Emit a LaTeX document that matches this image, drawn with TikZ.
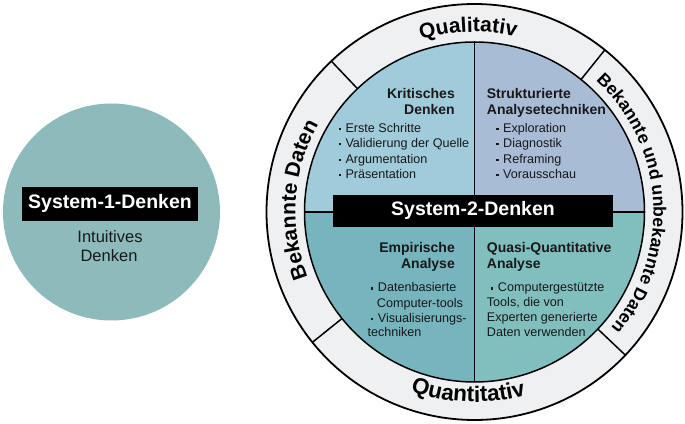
\documentclass[tikz,border=0pt]{standalone}
\usepackage{fontspec}
\setmainfont{Liberation Sans}
\usetikzlibrary{decorations.text}
\definecolor{sysone}{HTML}{8DBABA}
\definecolor{ringcol}{HTML}{EFF0F2}
\definecolor{qtl}{HTML}{A0CBDB}
\definecolor{qtr}{HTML}{A8BCD6}
\definecolor{qbl}{HTML}{76B4BE}
\definecolor{qbr}{HTML}{80BFBE}
\newcommand\qsq{\makebox[7pt][l]{\rule[2.3pt]{2.3pt}{2.3pt}}}
\tikzset{
  body/.style={font=\fontsize{12.6}{15}\selectfont, inner sep=0pt, text=black!90},
  head/.style={font=\bfseries\fontsize{14}{16}\selectfont, inner sep=0pt, text=black!90},
  bigbox/.style={fill=black, text=white, font=\bfseries\fontsize{19.5}{20}\selectfont, inner sep=0pt},
  ringline/.style={line width=1.5pt, black},
}
\begin{document}
\begin{tikzpicture}[x=1pt,y=1pt]
\useasboundingbox (0,0) rectangle (685,423);

% left circle
\node[circle, fill=sysone, minimum size=217pt, inner sep=0pt] (s1circ) at (111.5,211) {};
\node[bigbox, minimum width=175.4pt, minimum height=34pt] (s1box) at (110,219.3) {System-1-Denken};
\node[inner sep=0pt, anchor=base, font=\fontsize{16.5}{19}\selectfont, text=black!90] (s1a) at (110,180.7) {Intuitives};
\node[inner sep=0pt, anchor=base, font=\fontsize{16.5}{19}\selectfont, text=black!90] (s1b) at (109,161.3) {Denken};

% big circle
\coordinate (C) at (474.5,211);
\fill[ringcol] (C) circle (208);
\fill[qtl] (C) -- ([shift={(90:170)}]C) arc[start angle=90, end angle=180, radius=170] -- cycle;
\fill[qtr] (C) -- ([shift={(0:170)}]C) arc[start angle=0, end angle=90, radius=170] -- cycle;
\fill[qbl] (C) -- ([shift={(180:170)}]C) arc[start angle=180, end angle=270, radius=170] -- cycle;
\fill[qbr] (C) -- ([shift={(270:170)}]C) arc[start angle=270, end angle=360, radius=170] -- cycle;

\draw[line width=1.3pt] ([shift={(90:170)}]C) -- ([shift={(270:170)}]C);
\draw[line width=1.3pt] ([shift={(180:170)}]C) -- ([shift={(0:170)}]C);
\draw[line width=1.8pt] (C) circle (208);
\draw[ringline] (C) circle (170);
\foreach \a in {133.5,51.2,218.8,316.5}{
  \draw[ringline] ([shift={(\a:170)}]C) -- ([shift={(\a:208)}]C);
}

% ring labels
\path[decorate, decoration={text along path, text align=center,
  text={|\bfseries\fontsize{21}{21}\selectfont|Qualitativ}}]
  ([shift={(137:180)}]C) arc[start angle=137, end angle=47, radius=180];
\path[decorate, decoration={text along path, text align=center,
  text={|\bfseries\fontsize{22.5}{22.5}\selectfont|Quantitativ}}]
  ([shift={(223:190)}]C) arc[start angle=223, end angle=313, radius=190];
\path[decorate, decoration={text along path, text align=center,
  text={|\bfseries\fontsize{21}{21}\selectfont|Bekannte Daten}}]
  ([shift={(221:179)}]C) arc[start angle=221, end angle=131, radius=179];
\path[decorate, decoration={text along path, text align=center,
  text={|\bfseries\fontsize{17.6}{17.6}\selectfont|Bekannte und unbekannte Daten}}]
  ([shift={(58:179)}]C) arc[start angle=58, end angle=-51, radius=179];

% System 2 box
\node[bigbox, minimum width=280.6pt, minimum height=31.7pt] (s2box) at (473,212.2) {System-2-Denken};

% top-left quadrant
\node[head, anchor=base east] (kr1) at (455,324.7) {Kritisches};
\node[head, anchor=base east] (kr2) at (455,308.7) {Denken};
\node[body, anchor=base west] (kb1) at (338.3,290.3) {\qsq Erste Schritte};
\node[body, anchor=base west] (kb2) at (338.3,275.3) {\qsq Validierung der Quelle};
\node[body, anchor=base west] (kb3) at (338.3,259.7) {\qsq Argumentation};
\node[body, anchor=base west] (kb4) at (338.3,244.3) {\qsq Präsentation};

% top-right quadrant
\node[head, anchor=base west] (sa1) at (486.7,324.5) {Strukturierte};
\node[head, anchor=base west] (sa2) at (486.7,308.5) {Analysetechniken};
\node[body, anchor=base west] (sb1) at (496,290.7) {\qsq Exploration};
\node[body, anchor=base west] (sb2) at (496,275.3) {\qsq Diagnostik};
\node[body, anchor=base west] (sb3) at (496,259.7) {\qsq Reframing};
\node[body, anchor=base west] (sb4) at (496,244.3) {\qsq Vorausschau};

% bottom-left quadrant
\node[head, anchor=base east] (ea1) at (455,170.3) {Empirische};
\node[head, anchor=base east] (ea2) at (455,154.7) {Analyse};
\node[body, anchor=base west] (eb1) at (370.7,131) {\qsq Datenbasierte};
\node[body, anchor=base west] (eb2) at (376.7,115.7) {Computer-tools};
\node[body, anchor=base west] (eb3) at (370.7,100.3) {\qsq Visualisierungs-};
\node[body, anchor=base west] (eb4) at (367.3,86.3) {techniken};

% bottom-right quadrant
\node[head, anchor=base west] (qa1) at (486.7,170) {Quasi-Quantitative};
\node[head, anchor=base west] (qa2) at (486.7,154.7) {Analyse};
\node[body, anchor=base west] (qb1) at (490.7,131) {\qsq Computergestützte};
\node[body, anchor=base west] (qb2) at (486.7,116.5) {Tools, die von};
\node[body, anchor=base west] (qb3) at (486.7,101.3) {Experten generierte};
\node[body, anchor=base west] (qb4) at (486.7,86.3) {Daten verwenden};
\end{tikzpicture}
\end{document}
